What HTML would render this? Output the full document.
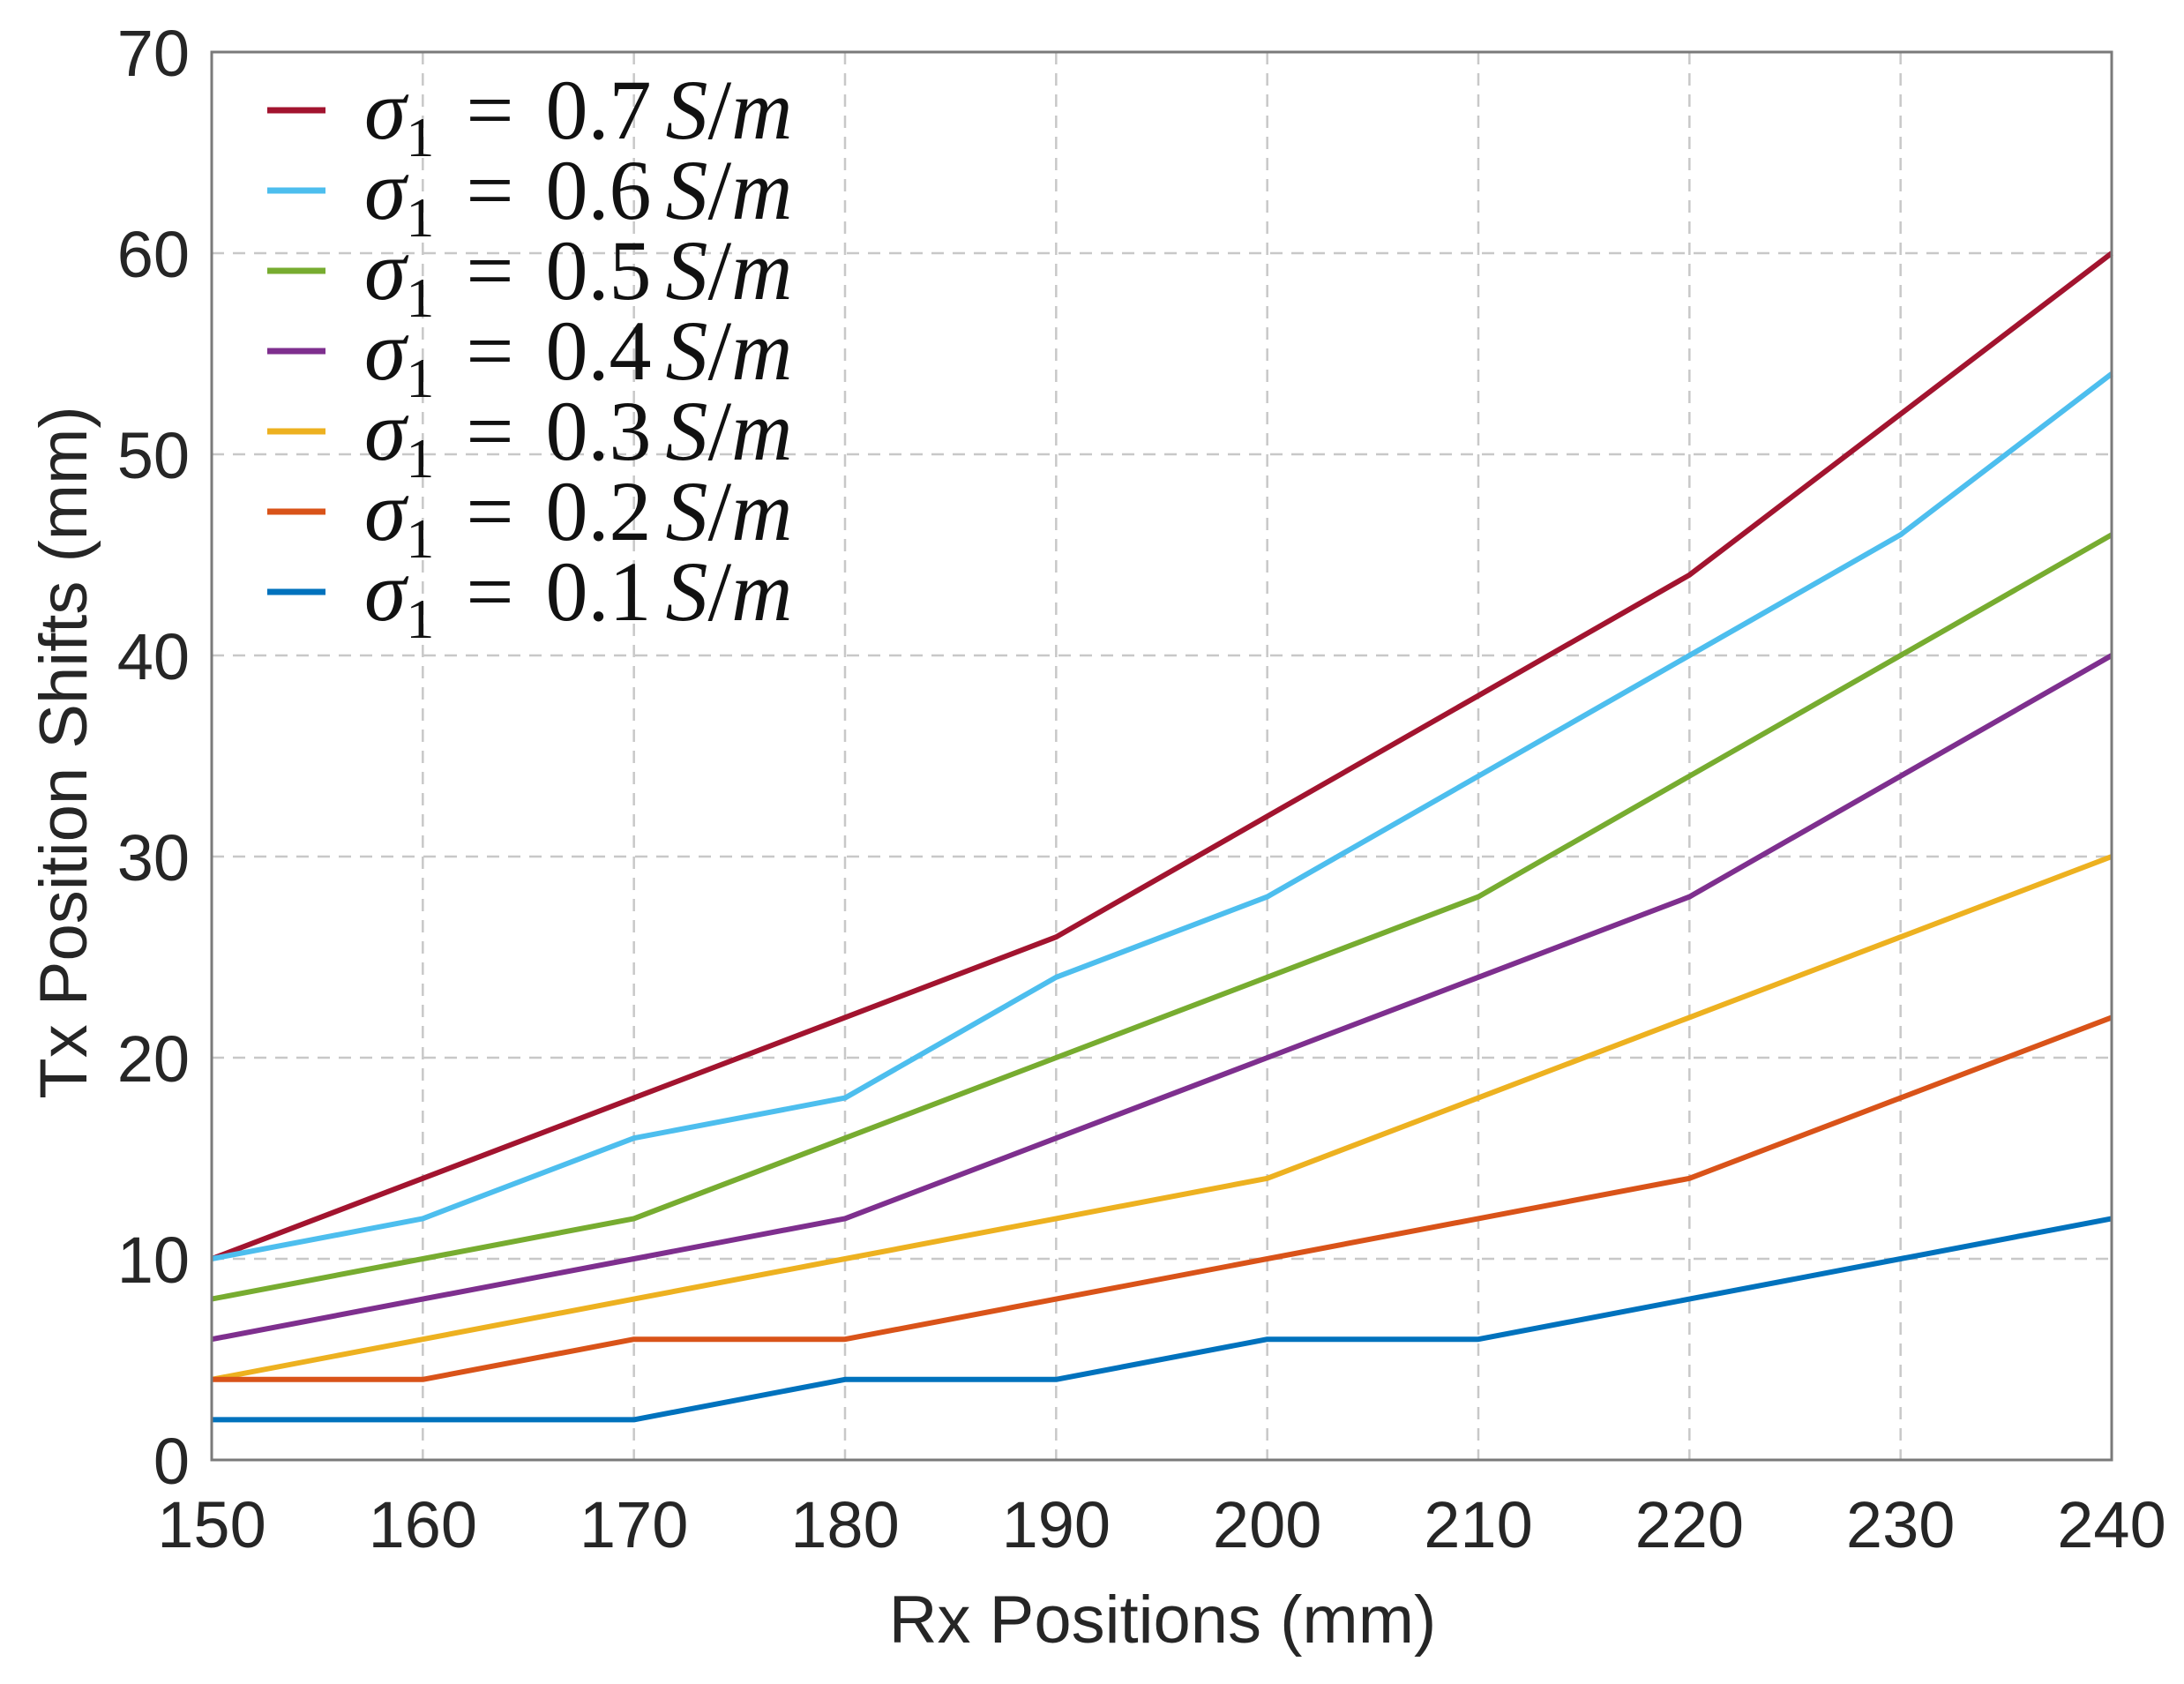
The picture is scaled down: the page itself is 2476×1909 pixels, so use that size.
<!DOCTYPE html>
<html><head><meta charset="utf-8"><style>
html,body{margin:0;padding:0;background:#fff;}
svg{display:block;}
</style></head><body>
<svg id="chart" width="2476" height="1909" viewBox="0 0 2476 1909" xmlns="http://www.w3.org/2000/svg">
<rect width="2476" height="1909" fill="#fff"/>
<g id="grid"></g>
<g id="series"></g>
<rect x="240" y="59" width="2154" height="1596" fill="none" stroke="#7a7a7a" stroke-width="3"/>
<g id="ticks" font-family="'Liberation Sans', Arial, sans-serif" font-size="74" fill="#262626"></g>
<text x="1318" y="1862" text-anchor="middle" font-family="'Liberation Sans', Arial, sans-serif" font-size="76" fill="#262626">Rx Positions (mm)</text>
<text transform="translate(98,853) rotate(-90)" text-anchor="middle" font-family="'Liberation Sans', Arial, sans-serif" font-size="76" fill="#262626">Tx Position Shifts (mm)</text>
<g id="legend"></g>
</svg>
<script>
const xValues = [150,160,170,180,190,200,210,220,230,240];
const xTicks = [150,160,170,180,190,200,210,220,230,240];
const yTicks = [0,10,20,30,40,50,60,70];
const labels = ['0.7','0.6','0.5','0.4','0.3','0.2','0.1'];
const colors = ['#A2142F','#4DBEEE','#77AC30','#7E2F8E','#EDB120','#D95319','#0072BD'];
const s07 = [10,14,18,22,26,32,38,44,52,60];
const s06 = [10,12,16,18,24,28,34,40,46,54];
const s05 = [8,10,12,16,20,24,28,34,40,46];
const s04 = [6,8,10,12,16,20,24,28,34,40];
const s03 = [4,6,8,10,12,14,18,22,26,30];
const s02 = [4,4,6,6,8,10,12,14,18,22];
const s01 = [2,2,2,4,4,6,6,8,10,12];
const seriesList = [s07,s06,s05,s04,s03,s02,s01];

const NS='http://www.w3.org/2000/svg';
const L=240,R=2394,T=59,B=1655;
const xS=v=>L+(v-150)/(240-150)*(R-L);
const yS=v=>B-(v-0)/(70-0)*(B-T);
function mk(tag,attrs,parent){const e=document.createElementNS(NS,tag);for(const k in attrs)e.setAttribute(k,attrs[k]);parent.appendChild(e);return e;}
const grid=document.getElementById('grid'),ticks=document.getElementById('ticks'),ser=document.getElementById('series'),leg=document.getElementById('legend');
xTicks.forEach(v=>{
  const g=mk('line',{x1:xS(v),x2:xS(v),y1:T,y2:B,stroke:'#c8c8c8','stroke-width':2.5,'stroke-dasharray':'14 10'},grid);
  
  
  const t=mk('text',{x:xS(v),y:1754,'text-anchor':'middle'},ticks);
  t.textContent=v;
  
  
});
yTicks.forEach(v=>{
  const g=mk('line',{x1:L,x2:R,y1:yS(v),y2:yS(v),stroke:'#c8c8c8','stroke-width':2.5,'stroke-dasharray':'14 10'},grid);
  
  
  const t=mk('text',{x:215,y:yS(v)+27,'text-anchor':'end'},ticks);
  t.textContent=v;
  
  
});
seriesList.forEach((s,i)=>{
  const p=mk('polyline',{points:s.map((v,j)=>xS(xValues[j])+','+yS(v)).join(' '),fill:'none',stroke:colors[i],'stroke-width':6,'stroke-linejoin':'round'},ser);
  
  
});
labels.forEach((lab,i)=>{
  const y=125+i*91;
  const ln=mk('line',{x1:303,x2:369,y1:y,y2:y,stroke:colors[i],'stroke-width':7},leg);
  
  
  const t=mk('text',{x:413,y:y+32,'font-family':"'Liberation Serif', 'DejaVu Serif', serif",'font-size':96,fill:'#111'},leg);
  t.innerHTML='<tspan font-style="italic">σ</tspan><tspan font-size="64" dy="20">1</tspan><tspan dy="-20" dx="36">=</tspan><tspan dx="36">'+lab+'</tspan><tspan dx="16" font-style="italic">S</tspan><tspan>/</tspan><tspan font-style="italic">m</tspan>';
  
  
});
</script>
</body></html>
